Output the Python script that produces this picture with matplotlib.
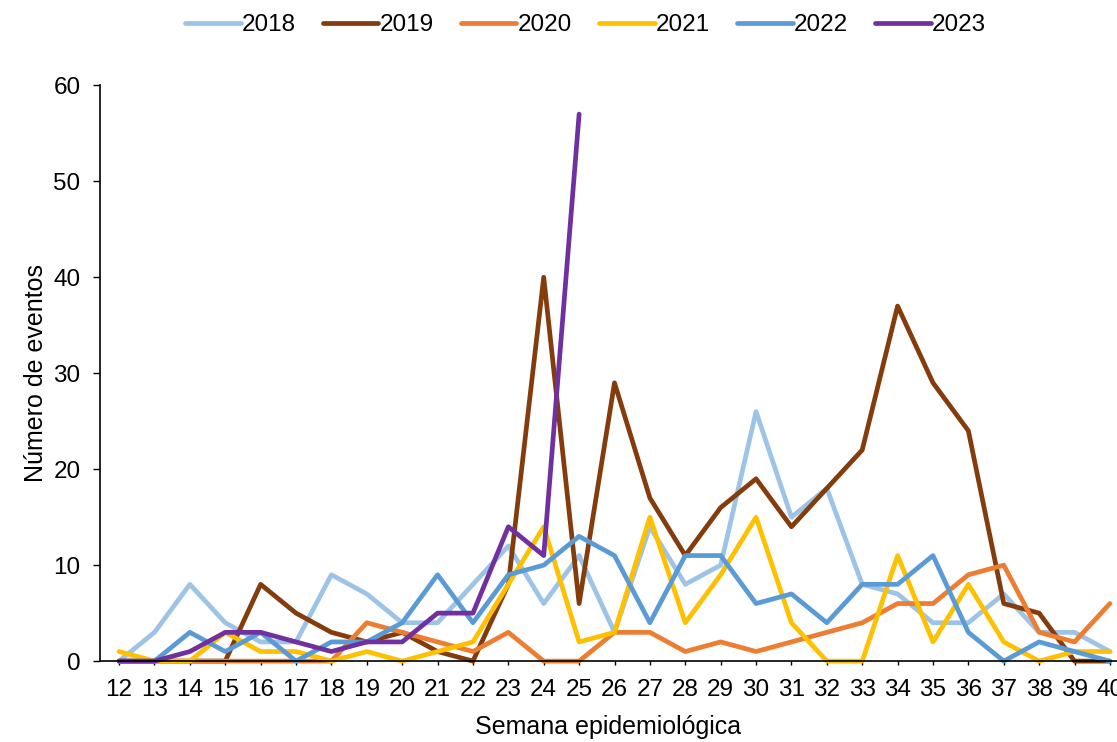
import matplotlib.pyplot as plt

plt.rcParams['font.family'] = ['Liberation Sans', 'DejaVu Sans']

# %% Data - eventos por semana epidemiológica
weeks = list(range(12, 41))

y2018 = [0, 3, 8, 4, 2, 2, 9, 7, 4, 4, 8, 12, 6, 11, 3, 14, 8, 10, 26, 15, 18, 8, 7, 4, 4, 7, 3, 3, 1]
y2019 = [0, 0, 0, 0, 8, 5, 3, 2, 3, 1, 0, 8, 40, 6, 29, 17, 11, 16, 19, 14, 18, 22, 37, 29, 24, 6, 5, 0, 0]
y2020 = [0, 0, 0, 0, 0, 0, 0, 4, 3, 2, 1, 3, 0, 0, 3, 3, 1, 2, 1, 2, 3, 4, 6, 6, 9, 10, 3, 2, 6]
y2021 = [1, 0, 0, 3, 1, 1, 0, 1, 0, 1, 2, 8, 14, 2, 3, 15, 4, 9, 15, 4, 0, 0, 11, 2, 8, 2, 0, 1, 1]
y2022 = [0, 0, 3, 1, 3, 0, 2, 2, 4, 9, 4, 9, 10, 13, 11, 4, 11, 11, 6, 7, 4, 8, 8, 11, 3, 0, 2, 1, 0]
y2023 = [0, 0, 1, 3, 3, 2, 1, 2, 2, 5, 5, 14, 11, 57]

series = [
    ('2018', y2018, '#9DC3E6'),
    ('2019', y2019, '#843C0C'),
    ('2020', y2020, '#ED7D31'),
    ('2021', y2021, '#FFC000'),
    ('2022', y2022, '#5B9BD5'),
    ('2023', y2023, '#7030A0'),
]

# %% Plot
fig = plt.figure(figsize=(11.17, 7.42), dpi=100)
ax = fig.add_axes([0.0895, 0.109, 0.9105, 0.776])

for label, vals, color in series:
    ax.plot(weeks[:len(vals)], vals, color=color, lw=3.4, label=label,
            solid_joinstyle='round', solid_capstyle='round', clip_on=False)

ax.set_xlim(11.46, 40.2)
ax.set_ylim(0, 60)
ax.set_xticks(weeks)
ax.set_yticks(range(0, 61, 10))
ax.tick_params(labelsize=17.5, direction='out', width=1, color='black')
ax.tick_params(axis='x', length=3, pad=10)
ax.tick_params(axis='y', length=5, pad=9)

for side in ['top', 'right']:
    ax.spines[side].set_visible(False)
for side in ['left', 'bottom']:
    ax.spines[side].set_color('black')
    ax.spines[side].set_linewidth(1.2)

ax.set_xlabel('Semana epidemiológica', fontsize=18, labelpad=10)
ax.set_ylabel('Número de eventos', fontsize=18, labelpad=4)

fig.legend(loc='upper center', bbox_to_anchor=(0.524, 1.01), ncol=6, frameon=False,
           fontsize=17.5, handlelength=2.3, handletextpad=0.05, columnspacing=1.1)

fig.savefig('out.png', dpi=100)
